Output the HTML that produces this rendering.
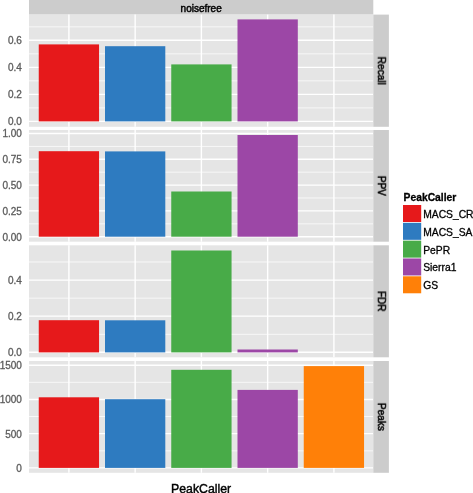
<!DOCTYPE html><html><head><meta charset="utf-8"><style>html,body{margin:0;padding:0;background:#fff;width:473px;height:493px;overflow:hidden}svg{display:block}text{font-family:"Liberation Sans",sans-serif}</style></head><body>
<svg width="473" height="493" viewBox="0 0 473 493">
<defs><filter id="b" x="-20%" y="-20%" width="140%" height="140%"><feGaussianBlur stdDeviation="0.3"/></filter></defs>
<rect width="473" height="493" fill="#fff"/>
<rect x="29.0" y="0" width="344.30" height="14.6" fill="#CCCCCC"/>
<text x="201.15" y="11.7" font-size="10" text-anchor="middle" fill="#000" stroke="#000" stroke-width="0.45" filter="url(#b)">noisefree</text>
<rect x="29.0" y="14.6" width="344.30" height="112.20" fill="#E5E5E5"/>
<line x1="29.0" x2="373.3" y1="107.9" y2="107.9" stroke="#F9F9F9" stroke-width="0.9"/>
<line x1="29.0" x2="373.3" y1="80.85" y2="80.85" stroke="#F9F9F9" stroke-width="0.9"/>
<line x1="29.0" x2="373.3" y1="53.8" y2="53.8" stroke="#F9F9F9" stroke-width="0.9"/>
<line x1="29.0" x2="373.3" y1="26.8" y2="26.8" stroke="#F9F9F9" stroke-width="0.9"/>
<line x1="29.0" x2="373.3" y1="121.4" y2="121.4" stroke="#FFFFFF" stroke-width="1.4"/>
<text x="21.9" y="125.35" font-size="10" text-anchor="end" fill="#5C5C5C" stroke="#5C5C5C" stroke-width="0.3" filter="url(#b)">0.0</text>
<line x1="29.0" x2="373.3" y1="94.37" y2="94.37" stroke="#FFFFFF" stroke-width="1.4"/>
<text x="21.9" y="98.32" font-size="10" text-anchor="end" fill="#5C5C5C" stroke="#5C5C5C" stroke-width="0.3" filter="url(#b)">0.2</text>
<line x1="29.0" x2="373.3" y1="67.33" y2="67.33" stroke="#FFFFFF" stroke-width="1.4"/>
<text x="21.9" y="71.28" font-size="10" text-anchor="end" fill="#5C5C5C" stroke="#5C5C5C" stroke-width="0.3" filter="url(#b)">0.4</text>
<line x1="29.0" x2="373.3" y1="40.3" y2="40.3" stroke="#FFFFFF" stroke-width="1.4"/>
<text x="21.9" y="44.25" font-size="10" text-anchor="end" fill="#5C5C5C" stroke="#5C5C5C" stroke-width="0.3" filter="url(#b)">0.6</text>
<line x1="68.90" x2="68.90" y1="14.6" y2="126.8" stroke="#FFFFFF" stroke-width="1.4"/>
<line x1="135.15" x2="135.15" y1="14.6" y2="126.8" stroke="#FFFFFF" stroke-width="1.4"/>
<line x1="201.40" x2="201.40" y1="14.6" y2="126.8" stroke="#FFFFFF" stroke-width="1.4"/>
<line x1="267.65" x2="267.65" y1="14.6" y2="126.8" stroke="#FFFFFF" stroke-width="1.4"/>
<line x1="333.90" x2="333.90" y1="14.6" y2="126.8" stroke="#FFFFFF" stroke-width="1.4"/>
<rect x="38.75" y="44.4" width="60.3" height="77.00" fill="#E6191B"/>
<rect x="105.00" y="46.2" width="60.3" height="75.20" fill="#2E7BC0"/>
<rect x="171.25" y="64.4" width="60.3" height="57.00" fill="#48AB48"/>
<rect x="237.50" y="19.4" width="60.3" height="102.00" fill="#9C47A6"/>
<rect x="373.3" y="14.6" width="15.60" height="112.20" fill="#CCCCCC"/>
<text x="0" y="0" transform="translate(377.90,70.70) rotate(90)" font-size="10" text-anchor="middle" fill="#000" stroke="#000" stroke-width="0.5" filter="url(#b)">Recall</text>
<rect x="29.0" y="130.0" width="344.30" height="111.70" fill="#E5E5E5"/>
<line x1="29.0" x2="373.3" y1="223.8" y2="223.8" stroke="#F9F9F9" stroke-width="0.9"/>
<line x1="29.0" x2="373.3" y1="198.0" y2="198.0" stroke="#F9F9F9" stroke-width="0.9"/>
<line x1="29.0" x2="373.3" y1="172.2" y2="172.2" stroke="#F9F9F9" stroke-width="0.9"/>
<line x1="29.0" x2="373.3" y1="146.4" y2="146.4" stroke="#F9F9F9" stroke-width="0.9"/>
<line x1="29.0" x2="373.3" y1="236.7" y2="236.7" stroke="#FFFFFF" stroke-width="1.4"/>
<text x="21.9" y="240.65" font-size="10" text-anchor="end" fill="#5C5C5C" stroke="#5C5C5C" stroke-width="0.3" filter="url(#b)">0.00</text>
<line x1="29.0" x2="373.3" y1="210.9" y2="210.9" stroke="#FFFFFF" stroke-width="1.4"/>
<text x="21.9" y="214.85" font-size="10" text-anchor="end" fill="#5C5C5C" stroke="#5C5C5C" stroke-width="0.3" filter="url(#b)">0.25</text>
<line x1="29.0" x2="373.3" y1="185.1" y2="185.1" stroke="#FFFFFF" stroke-width="1.4"/>
<text x="21.9" y="189.05" font-size="10" text-anchor="end" fill="#5C5C5C" stroke="#5C5C5C" stroke-width="0.3" filter="url(#b)">0.50</text>
<line x1="29.0" x2="373.3" y1="159.3" y2="159.3" stroke="#FFFFFF" stroke-width="1.4"/>
<text x="21.9" y="163.25" font-size="10" text-anchor="end" fill="#5C5C5C" stroke="#5C5C5C" stroke-width="0.3" filter="url(#b)">0.75</text>
<line x1="29.0" x2="373.3" y1="133.5" y2="133.5" stroke="#FFFFFF" stroke-width="1.4"/>
<text x="21.9" y="137.45" font-size="10" text-anchor="end" fill="#5C5C5C" stroke="#5C5C5C" stroke-width="0.3" filter="url(#b)">1.00</text>
<line x1="68.90" x2="68.90" y1="130.0" y2="241.7" stroke="#FFFFFF" stroke-width="1.4"/>
<line x1="135.15" x2="135.15" y1="130.0" y2="241.7" stroke="#FFFFFF" stroke-width="1.4"/>
<line x1="201.40" x2="201.40" y1="130.0" y2="241.7" stroke="#FFFFFF" stroke-width="1.4"/>
<line x1="267.65" x2="267.65" y1="130.0" y2="241.7" stroke="#FFFFFF" stroke-width="1.4"/>
<line x1="333.90" x2="333.90" y1="130.0" y2="241.7" stroke="#FFFFFF" stroke-width="1.4"/>
<rect x="38.75" y="151.2" width="60.3" height="85.50" fill="#E6191B"/>
<rect x="105.00" y="151.4" width="60.3" height="85.30" fill="#2E7BC0"/>
<rect x="171.25" y="191.5" width="60.3" height="45.20" fill="#48AB48"/>
<rect x="237.50" y="135.0" width="60.3" height="101.70" fill="#9C47A6"/>
<rect x="373.3" y="130.0" width="15.60" height="111.70" fill="#CCCCCC"/>
<text x="0" y="0" transform="translate(377.90,185.85) rotate(90)" font-size="10" text-anchor="middle" fill="#000" stroke="#000" stroke-width="0.5" filter="url(#b)">PPV</text>
<rect x="29.0" y="245.3" width="344.30" height="112.00" fill="#E5E5E5"/>
<line x1="29.0" x2="373.3" y1="334.3" y2="334.3" stroke="#F9F9F9" stroke-width="0.9"/>
<line x1="29.0" x2="373.3" y1="298.2" y2="298.2" stroke="#F9F9F9" stroke-width="0.9"/>
<line x1="29.0" x2="373.3" y1="262.0" y2="262.0" stroke="#F9F9F9" stroke-width="0.9"/>
<line x1="29.0" x2="373.3" y1="352.2" y2="352.2" stroke="#FFFFFF" stroke-width="1.4"/>
<text x="21.9" y="356.15" font-size="10" text-anchor="end" fill="#5C5C5C" stroke="#5C5C5C" stroke-width="0.3" filter="url(#b)">0.0</text>
<line x1="29.0" x2="373.3" y1="316.15" y2="316.15" stroke="#FFFFFF" stroke-width="1.4"/>
<text x="21.9" y="320.10" font-size="10" text-anchor="end" fill="#5C5C5C" stroke="#5C5C5C" stroke-width="0.3" filter="url(#b)">0.2</text>
<line x1="29.0" x2="373.3" y1="280.1" y2="280.1" stroke="#FFFFFF" stroke-width="1.4"/>
<text x="21.9" y="284.05" font-size="10" text-anchor="end" fill="#5C5C5C" stroke="#5C5C5C" stroke-width="0.3" filter="url(#b)">0.4</text>
<line x1="68.90" x2="68.90" y1="245.3" y2="357.3" stroke="#FFFFFF" stroke-width="1.4"/>
<line x1="135.15" x2="135.15" y1="245.3" y2="357.3" stroke="#FFFFFF" stroke-width="1.4"/>
<line x1="201.40" x2="201.40" y1="245.3" y2="357.3" stroke="#FFFFFF" stroke-width="1.4"/>
<line x1="267.65" x2="267.65" y1="245.3" y2="357.3" stroke="#FFFFFF" stroke-width="1.4"/>
<line x1="333.90" x2="333.90" y1="245.3" y2="357.3" stroke="#FFFFFF" stroke-width="1.4"/>
<rect x="38.75" y="320.2" width="60.3" height="32.20" fill="#E6191B"/>
<rect x="105.00" y="320.3" width="60.3" height="32.10" fill="#2E7BC0"/>
<rect x="171.25" y="250.5" width="60.3" height="101.90" fill="#48AB48"/>
<rect x="237.50" y="349.5" width="60.3" height="2.90" fill="#9C47A6"/>
<rect x="373.3" y="245.3" width="15.60" height="112.00" fill="#CCCCCC"/>
<text x="0" y="0" transform="translate(377.90,301.30) rotate(90)" font-size="10" text-anchor="middle" fill="#000" stroke="#000" stroke-width="0.5" filter="url(#b)">FDR</text>
<rect x="29.0" y="361.0" width="344.30" height="111.80" fill="#E5E5E5"/>
<line x1="29.0" x2="373.3" y1="450.8" y2="450.8" stroke="#F9F9F9" stroke-width="0.9"/>
<line x1="29.0" x2="373.3" y1="416.5" y2="416.5" stroke="#F9F9F9" stroke-width="0.9"/>
<line x1="29.0" x2="373.3" y1="382.3" y2="382.3" stroke="#F9F9F9" stroke-width="0.9"/>
<line x1="29.0" x2="373.3" y1="467.9" y2="467.9" stroke="#FFFFFF" stroke-width="1.4"/>
<text x="21.9" y="471.85" font-size="10" text-anchor="end" fill="#5C5C5C" stroke="#5C5C5C" stroke-width="0.3" filter="url(#b)">0</text>
<line x1="29.0" x2="373.3" y1="433.67" y2="433.67" stroke="#FFFFFF" stroke-width="1.4"/>
<text x="21.9" y="437.62" font-size="10" text-anchor="end" fill="#5C5C5C" stroke="#5C5C5C" stroke-width="0.3" filter="url(#b)">500</text>
<line x1="29.0" x2="373.3" y1="399.43" y2="399.43" stroke="#FFFFFF" stroke-width="1.4"/>
<text x="21.9" y="403.38" font-size="10" text-anchor="end" fill="#5C5C5C" stroke="#5C5C5C" stroke-width="0.3" filter="url(#b)">1000</text>
<line x1="29.0" x2="373.3" y1="365.2" y2="365.2" stroke="#FFFFFF" stroke-width="1.4"/>
<text x="21.9" y="369.15" font-size="10" text-anchor="end" fill="#5C5C5C" stroke="#5C5C5C" stroke-width="0.3" filter="url(#b)">1500</text>
<line x1="68.90" x2="68.90" y1="361.0" y2="472.8" stroke="#FFFFFF" stroke-width="1.4"/>
<line x1="135.15" x2="135.15" y1="361.0" y2="472.8" stroke="#FFFFFF" stroke-width="1.4"/>
<line x1="201.40" x2="201.40" y1="361.0" y2="472.8" stroke="#FFFFFF" stroke-width="1.4"/>
<line x1="267.65" x2="267.65" y1="361.0" y2="472.8" stroke="#FFFFFF" stroke-width="1.4"/>
<line x1="333.90" x2="333.90" y1="361.0" y2="472.8" stroke="#FFFFFF" stroke-width="1.4"/>
<rect x="38.75" y="397.3" width="60.3" height="70.60" fill="#E6191B"/>
<rect x="105.00" y="399.2" width="60.3" height="68.70" fill="#2E7BC0"/>
<rect x="171.25" y="369.8" width="60.3" height="98.10" fill="#48AB48"/>
<rect x="237.50" y="389.9" width="60.3" height="78.00" fill="#9C47A6"/>
<rect x="303.75" y="366.1" width="60.3" height="101.80" fill="#FF8008"/>
<rect x="373.3" y="361.0" width="15.60" height="111.80" fill="#CCCCCC"/>
<text x="0" y="0" transform="translate(377.90,416.90) rotate(90)" font-size="10" text-anchor="middle" fill="#000" stroke="#000" stroke-width="0.5" filter="url(#b)">Peaks</text>
<text x="201.15" y="492.8" font-size="12.3" text-anchor="middle" fill="#000" stroke="#000" stroke-width="0.4" filter="url(#b)">PeakCaller</text>
<text x="403.6" y="200.8" font-size="10.3" font-weight="bold" fill="#000" stroke="#000" stroke-width="0.3" filter="url(#b)">PeakCaller</text>
<rect x="403.0" y="205.00" width="18.2" height="17.00" fill="#E6191B"/>
<text x="423.2" y="218.00" font-size="10.3" fill="#000" stroke="#000" stroke-width="0.3" filter="url(#b)">MACS_CR</text>
<rect x="403.0" y="222.82" width="18.2" height="17.00" fill="#2E7BC0"/>
<text x="423.2" y="235.82" font-size="10.3" fill="#000" stroke="#000" stroke-width="0.3" filter="url(#b)">MACS_SA</text>
<rect x="403.0" y="240.64" width="18.2" height="17.00" fill="#48AB48"/>
<text x="423.2" y="253.64" font-size="10.3" fill="#000" stroke="#000" stroke-width="0.3" filter="url(#b)">PePR</text>
<rect x="403.0" y="258.46" width="18.2" height="17.00" fill="#9C47A6"/>
<text x="423.2" y="271.46" font-size="10.3" fill="#000" stroke="#000" stroke-width="0.3" filter="url(#b)">Sierra1</text>
<rect x="403.0" y="276.28" width="18.2" height="17.00" fill="#FF8008"/>
<text x="423.2" y="289.28" font-size="10.3" fill="#000" stroke="#000" stroke-width="0.3" filter="url(#b)">GS</text>
</svg></body></html>
